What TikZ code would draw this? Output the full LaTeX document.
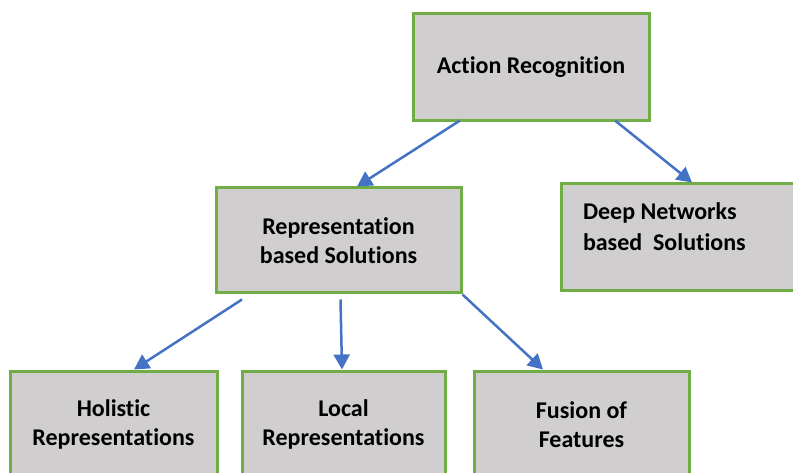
\documentclass[tikz,border=0pt]{standalone}
\usepackage{fontspec}
\setmainfont{Carlito}[Ligatures=CommonOff]
\usetikzlibrary{arrows.meta}
\definecolor{boxgreen}{RGB}{112,173,71}
\definecolor{boxgray}{RGB}{208,206,206}
\definecolor{arrowblue}{RGB}{68,114,196}
\tikzstyle{category} = [rectangle, minimum width=236pt, minimum height=107pt, inner sep=0pt, draw=boxgreen, line width=3pt, fill=boxgray, font=\fontsize{24}{29.5}\selectfont\bfseries, align=center]
\tikzstyle{arrow} = [draw=arrowblue, line width=2.5pt, -{Triangle[length=15pt,width=16pt]}]

\begin{document}
\begin{tikzpicture}[x=1pt, y=1pt, node distance=173pt]

\useasboundingbox (0,0) rectangle (793,-473);
\clip (0,0) rectangle (793,-473);

\node (act) [category] at (531,-67.5) {Action Recognition};
\node (repr) [category, below of=act, xshift=-192.5pt, minimum width=245pt, minimum height=105pt] {Representation\\based Solutions};
\node (deep) [category, below of=act, xshift=148pt, yshift=3pt] {\parbox[c][69pt][t]{192pt}{\raggedright\baselineskip=30.5pt Deep Networks\\based\ \ Solutions}};
\node (holi) [category, below of=repr, xshift=-225pt, yshift=-11pt, minimum width=207pt] {Holistic\\Representations};
\node (loca) [category, below of=repr, xshift=5pt, yshift=-11pt, minimum width=203pt] {Local\\Representations};
\node (fusi) [category, below of=repr, xshift=243pt, yshift=-11pt, minimum width=215pt] {Fusion of\\Features};

\draw [arrow] ([xshift=-71pt,yshift=2pt]act.south) -- ([xshift=18.5pt]repr.north);
\draw [arrow] ([xshift=84pt,yshift=2pt]act.south) -- ([xshift=13pt]deep.north);
\draw [arrow] ([xshift=-96.5pt,yshift=-5pt]repr.south) -- ([xshift=20.5pt]holi.north);
\draw [arrow] ([xshift=2pt,yshift=-5pt]repr.south) -- ([xshift=-1.5pt]loca.north);
\draw [arrow] (repr.south east) -- ([xshift=-38.5pt]fusi.north);

\end{tikzpicture}
\end{document}
